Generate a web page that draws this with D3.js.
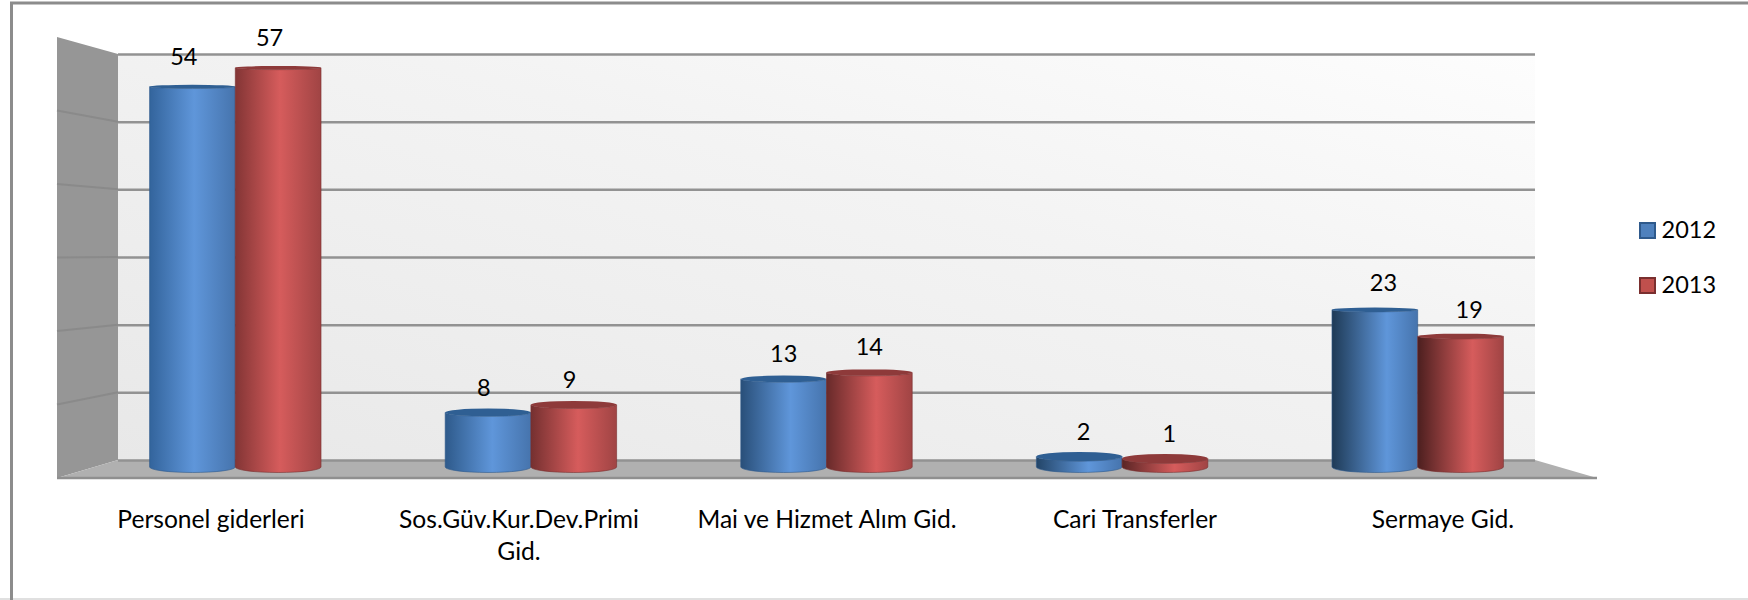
<!DOCTYPE html>
<html>
<head>
<meta charset="utf-8">
<script src="https://cdn.jsdelivr.net/npm/d3@7/dist/d3.min.js"></script>
<style>
body { margin: 0; background: #fff; }
text { font-family: Lato, "Open Sans", sans-serif; fill: #000; }
</style>
</head>
<body>
<script>
var categories = ['Personel giderleri', 'Sos.Güv.Kur.Dev.Primi Gid.', 'Mai ve Hizmet Alım Gid.', 'Cari Transferler', 'Sermaye Gid.'];
var seriesNames = ['2012', '2013'];
var values2012 = [54.4, 7.8, 12.6, 1.5, 22.5];
var values2013 = [57.1, 8.9, 13.5, 1.2, 18.7];
var axisTicks = [0, 10, 20, 30, 40, 50, 60];

var width = 1748, height = 600;
var seriesValues = [values2012, values2013];

var svg = d3.select('body').append('svg')
  .attr('width', width)
  .attr('height', height)
  .style('display', 'block');
var defs = svg.append('defs');

// scales: one for the back wall, one for the front edge, one for the plane the bars stand in
var backY = d3.scaleLinear().domain([0, 60]).range([460, 54]);
var frontY = d3.scaleLinear().domain([0, 60]).range([478, 37]);
var barY = d3.scaleLinear().domain([0, 60]).range([467, 47.5]);
var topRy = d3.scaleLinear().domain([0, 25, 60]).range([4.8, 1.9, 1.9]);
var baseRy = 5.5;

var backX = [118, 1535];
var frontX = d3.scaleBand().domain(categories).range([57, 1597]);
var groupX = d3.scaleBand().domain(categories).range([87.5, 1565.5]).paddingInner(0.42).paddingOuter(0.21);
var barX = d3.scaleBand().domain(seriesNames).range([0, groupX.bandwidth()]);

// frame
svg.append('line').attr('x1', 0).attr('x2', width).attr('y1', 599).attr('y2', 599).attr('stroke', '#e0e0e0').attr('stroke-width', 2);
svg.append('path')
  .attr('d', 'M11.5,' + height + 'V3H' + width)
  .attr('fill', 'none').attr('stroke', '#8c8c8c').attr('stroke-width', 3);

// back wall
var wallGrad = defs.append('linearGradient').attr('id', 'wallGrad')
  .attr('x1', 0).attr('y1', 1).attr('x2', 1).attr('y2', 0);
wallGrad.append('stop').attr('offset', '0%').attr('stop-color', '#e8e8e8');
wallGrad.append('stop').attr('offset', '60%').attr('stop-color', '#f3f3f3');
wallGrad.append('stop').attr('offset', '100%').attr('stop-color', '#fdfdfd');
svg.append('rect')
  .attr('x', backX[0]).attr('y', backY(60))
  .attr('width', backX[1] - backX[0]).attr('height', backY(0) - backY(60))
  .attr('fill', 'url(#wallGrad)');

// side wall
svg.append('path')
  .attr('d', 'M' + frontX.range()[0] + ',' + frontY(60) + 'L' + backX[0] + ',' + backY(60) + 'V' + backY(0) + 'L' + frontX.range()[0] + ',' + frontY(0) + 'Z')
  .attr('fill', '#969696');
svg.selectAll('.wallLine').data(axisTicks.slice(1, -1)).enter().append('line')
  .attr('class', 'wallLine')
  .attr('x1', frontX.range()[0]).attr('x2', backX[0])
  .attr('y1', function(d) { return frontY(d); })
  .attr('y2', function(d) { return backY(d); })
  .attr('stroke', '#8a8a8a').attr('stroke-width', 2);

// floor
svg.append('path')
  .attr('d', 'M' + backX[0] + ',' + backY(0) + 'H' + backX[1] + 'L' + frontX.range()[1] + ',' + frontY(0) + 'H' + frontX.range()[0] + 'Z')
  .attr('fill', '#b0b0b0');
svg.append('line')
  .attr('x1', frontX.range()[0]).attr('x2', frontX.range()[1])
  .attr('y1', frontY(0)).attr('y2', frontY(0))
  .attr('stroke', '#8f8f8f').attr('stroke-width', 2.5);

// horizontal gridlines on the back wall
var yAxis = d3.axisLeft(backY).tickValues(axisTicks).tickSize(-(backX[1] - backX[0])).tickFormat('');
var yAxisGroup = svg.append('g').attr('transform', 'translate(' + backX[0] + ',0)').call(yAxis);
yAxisGroup.select('.domain').remove();
yAxisGroup.selectAll('line').attr('stroke', '#929292').attr('stroke-width', 2.5);

// cylinder colours, the shaded side gets darker towards the right of the chart
var palettes = [
  { leftA: '#33649c', leftB: '#1e3a56', hi: '#5f96da', right: '#4674ad', top: '#2f5f93', edge: '#2f5a8c', key: '#4f81bd' },
  { leftA: '#833535', leftB: '#4c1f1f', hi: '#d65c5c', right: '#a04444', top: '#8e3a3a', edge: '#7a2f2f', key: '#c0504d' }
];

categories.forEach(function(cat, i) {
  palettes.forEach(function(p, s) {
    var grad = defs.append('linearGradient').attr('id', 'cyl' + i + '_' + s);
    var hiAt = 52 + i * 3;
    grad.append('stop').attr('offset', '0%').attr('stop-color', d3.interpolateRgb(p.leftA, p.leftB)(i / 4));
    grad.append('stop').attr('offset', hiAt + '%').attr('stop-color', p.hi);
    grad.append('stop').attr('offset', '100%').attr('stop-color', p.right);
  });
});

// bars
seriesNames.forEach(function(name, s) {
  var p = palettes[s];
  var g = svg.append('g').attr('class', 'series-' + name);
  var rows = categories.map(function(cat, i) { return { cat: cat, i: i, v: seriesValues[s][i] }; });

  g.selectAll('path.body').data(rows).enter().append('path')
    .attr('class', 'body')
    .attr('d', function(d) {
      var x0 = groupX(d.cat) + barX(name);
      var rx = barX.bandwidth() / 2;
      var x1 = x0 + rx * 2;
      return 'M' + x0 + ',' + barY(d.v) + 'V' + barY(0) +
        'A' + rx + ',' + baseRy + ' 0 0 0 ' + x1 + ',' + barY(0) +
        'V' + barY(d.v) +
        'A' + rx + ',' + topRy(d.v) + ' 0 0 1 ' + x0 + ',' + barY(d.v) + 'Z';
    })
    .attr('fill', function(d) { return 'url(#cyl' + d.i + '_' + s + ')'; })
    .attr('stroke', p.edge)
    .attr('stroke-opacity', 0.6);

  g.selectAll('ellipse').data(rows).enter().append('ellipse')
    .attr('cx', function(d) { return groupX(d.cat) + barX(name) + barX.bandwidth() / 2; })
    .attr('cy', function(d) { return barY(d.v); })
    .attr('rx', barX.bandwidth() / 2)
    .attr('ry', function(d) { return topRy(d.v); })
    .attr('fill', p.top);

  // value labels sit a little off the bar centre because of the perspective
  g.selectAll('text').data(rows).enter().append('text')
    .attr('x', function(d) { return groupX(d.cat) + barX(name) + barX.bandwidth() / 2 + (d.i - 2) * 4.3; })
    .attr('y', function(d) { return barY(d.v) - 16 - (barY(0) - barY(d.v)) * 0.014; })
    .attr('text-anchor', 'middle')
    .style('font-size', '23.5px')
    .text(function(d) { return d3.format('.0f')(d.v); });
});

// category labels
var xAxis = d3.axisBottom(frontX).tickSize(0).tickPadding(0);
var xAxisGroup = svg.append('g').attr('transform', 'translate(0,' + frontY(0) + ')').call(xAxis);
xAxisGroup.select('.domain').remove();
xAxisGroup.selectAll('text')
  .style('font-size', '24.6px')
  .attr('y', 0)
  .attr('dy', 0)
  .each(function(d) {
    var t = d3.select(this);
    var words = d.split(' ');
    var maxW = 270, line = [], lineNo = 0;
    t.text(null);
    var span = t.append('tspan').attr('x', 0).attr('y', 50);
    words.forEach(function(w) {
      line.push(w);
      span.text(line.join(' '));
      if (span.node().getComputedTextLength() > maxW && line.length > 1) {
        line.pop();
        span.text(line.join(' '));
        line = [w];
        lineNo++;
        span = t.append('tspan').attr('x', 0).attr('y', 50 + lineNo * 32).text(w);
      }
    });
  });

// legend
var legendY = d3.scalePoint().domain(seriesNames).range([230.5, 285.5]);
var legend = svg.selectAll('.legend').data(seriesNames).enter().append('g').attr('class', 'legend')
  .attr('transform', function(d) { return 'translate(1639,' + legendY(d) + ')'; });
legend.append('rect')
  .attr('x', 1).attr('y', -7.5).attr('width', 15).attr('height', 15)
  .attr('fill', function(d, i) { return palettes[i].key; })
  .attr('stroke', function(d, i) { return palettes[i].edge; })
  .attr('stroke-width', 2);
legend.append('text')
  .attr('x', 22.5).attr('y', 7)
  .style('font-size', '23.5px')
  .text(function(d) { return d; });
</script>
</body>
</html>
